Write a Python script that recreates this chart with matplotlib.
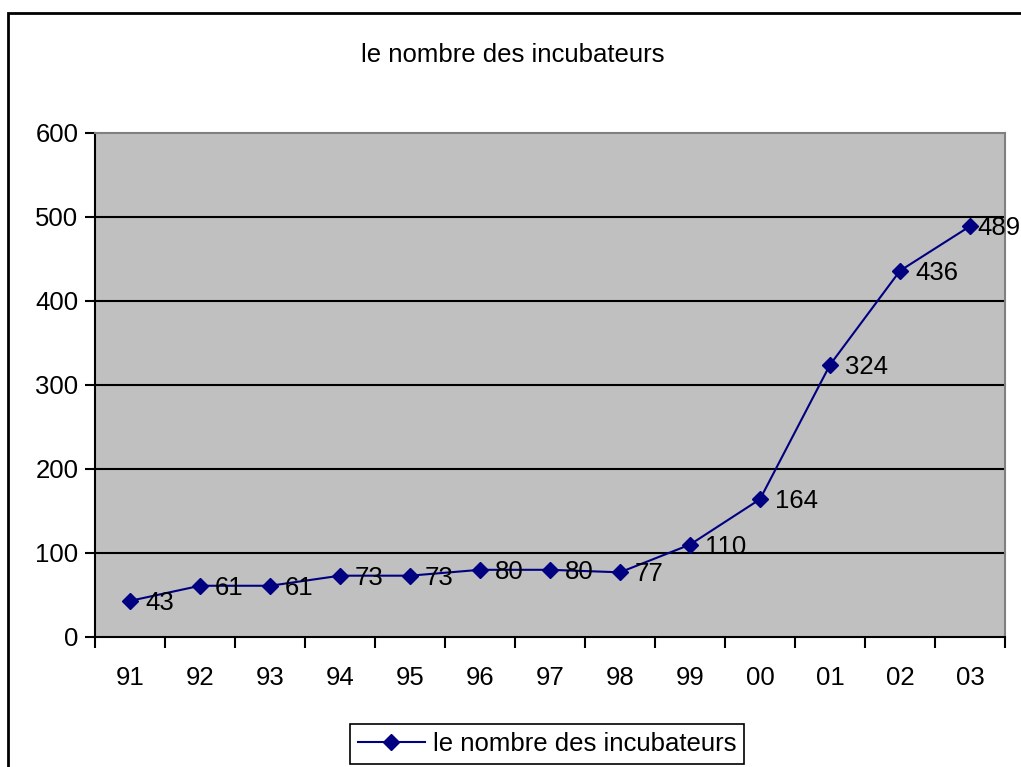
import matplotlib
matplotlib.use("Agg")
from matplotlib import pyplot as plt
from matplotlib.patches import Rectangle

years = ["91", "92", "93", "94", "95", "96", "97", "98", "99", "00", "01", "02", "03"]
incubateurs = [43, 61, 61, 73, 73, 80, 80, 77, 110, 164, 324, 436, 489]
series_name = "le nombre des incubateurs"
title = "le nombre des incubateurs"

plt.rcParams['font.family'] = ['Liberation Sans', 'DejaVu Sans']
fs = 18.5

fig = plt.figure(figsize=(10.21, 7.67), dpi=100)
ax = fig.add_axes([95 / 1021, 1 - 637 / 767, 910 / 1021, 504 / 767])
ax.set_facecolor("#C0C0C0")

x = list(range(len(years)))
ax.plot(x, incubateurs, color="#000080", lw=1.5, marker="D", markersize=8,
        label=series_name)

# data labels to the right of each point (last one squeezed in, like Excel does)
for xi, v in zip(x, incubateurs):
    dx = 7 if xi == x[-1] else 15
    ax.annotate(str(v), (xi, v), xytext=(dx, -2), textcoords="offset pixels",
                ha="left", va="center", fontsize=fs, color="black",
                annotation_clip=False)

ax.set_xlim(-0.5, len(years) - 0.5)
ax.set_ylim(0, 600)
ax.set_yticks(range(0, 601, 100))
ax.tick_params(axis="y", labelsize=fs, length=7, width=1.5, direction="out", pad=5)
ax.set_xticks(x)
ax.set_xticklabels(years)
ax.set_xticks([i - 0.5 for i in range(len(years) + 1)], minor=True)
ax.tick_params(axis="x", which="major", length=0, labelsize=fs, pad=21)
ax.tick_params(axis="x", which="minor", length=8, width=1.5, direction="out")

for yv in range(100, 600, 100):
    ax.axhline(yv, color="black", lw=1.5, zorder=1)

ax.spines["left"].set_linewidth(1.5)
ax.spines["bottom"].set_linewidth(1.5)
ax.spines["top"].set_color("#808080")
ax.spines["right"].set_color("#808080")
ax.spines["top"].set_linewidth(1.5)
ax.spines["right"].set_linewidth(1.5)

fig.text(513 / 1021, 1 - 55 / 767, title, ha="center", va="center", fontsize=fs)

# outer chart border
fig.patches.append(Rectangle((8 / 1021, -0.01), 1.02, 1 - 13 / 767 + 0.01,
                             transform=fig.transFigure, fill=False,
                             edgecolor="black", lw=2))

leg = fig.legend(loc="center", bbox_to_anchor=(547 / 1021, 1 - 744 / 767),
                 fontsize=fs, fancybox=False, framealpha=1, edgecolor="black",
                 handlelength=2.6, borderpad=0.3, handletextpad=0.3,
                 borderaxespad=0)
leg.get_frame().set_linewidth(1.2)

fig.savefig("out.png", dpi=100)
